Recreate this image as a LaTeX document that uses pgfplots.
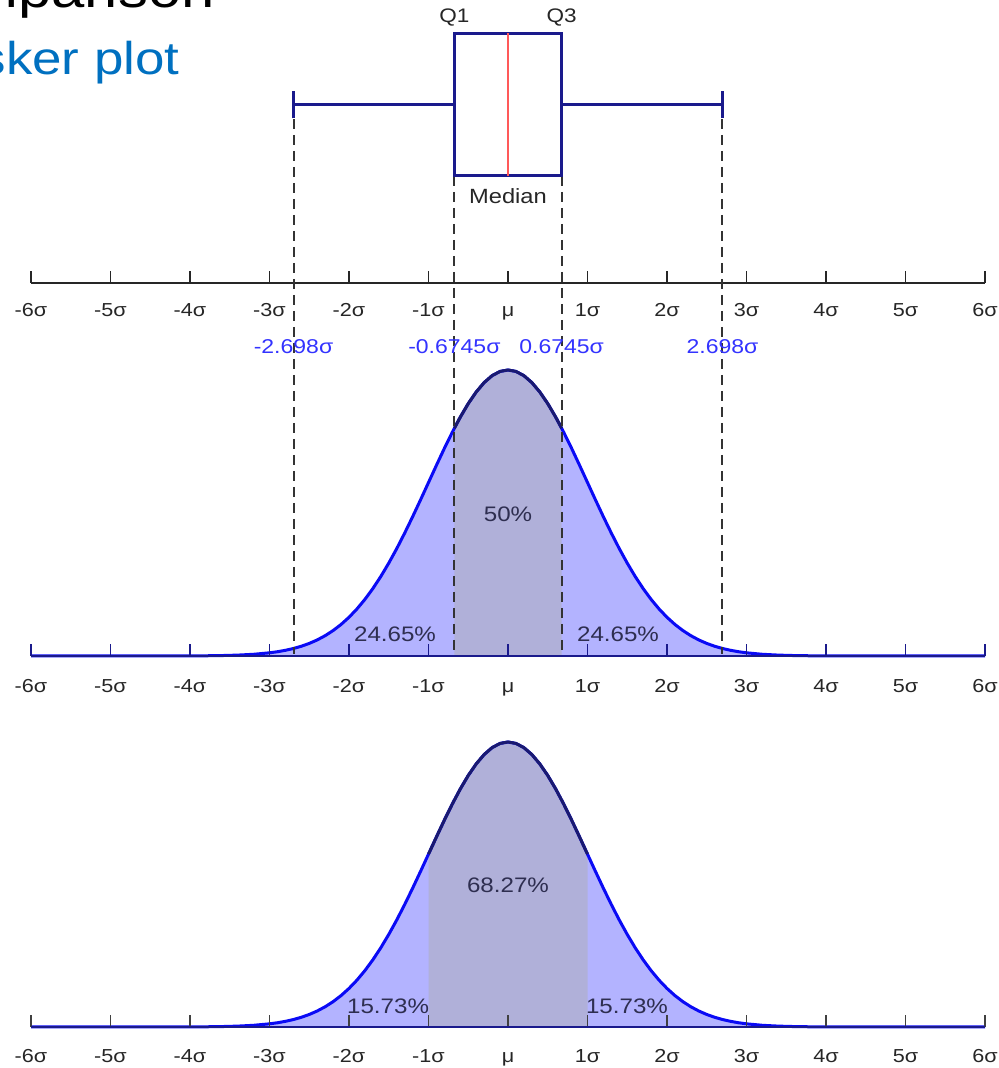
\documentclass[border=0pt]{standalone}
\usepackage{fontspec}
\setmainfont{Liberation Sans}
\usepackage{graphicx}
\usepackage{pgfplots}
\usepackage{pgfplotstable}
\pgfplotsset{compat=1.18}
\usepgfplotslibrary{statistics}

\definecolor{navyline}{HTML}{1A1A8C}
\definecolor{curveblue}{HTML}{0A0AF5}
\definecolor{fillblue}{HTML}{B3B3FF}
\definecolor{centerfill}{HTML}{B0B0D9}
\definecolor{darkcurve}{HTML}{1A1A70}
\definecolor{dashgrey}{HTML}{333333}
\definecolor{bluetext}{HTML}{3333FF}
\definecolor{titleblue}{HTML}{0070C0}
\definecolor{pcttext}{HTML}{2E2E50}

\newcommand{\sx}[1]{\scalebox{1.15}[1]{#1}}

% standard normal density, tabulated
\pgfplotstableread{
x y
-6 0
-5 0.0000015
-4.5 0.000016
-4 0.000134
-3.8 0.000292
-3.6 0.000612
-3.4 0.001232
-3.2 0.002384
-3.0 0.004432
-2.9 0.005953
-2.8 0.007915
-2.7 0.010421
-2.6 0.013583
-2.5 0.017528
-2.4 0.022395
-2.3 0.028327
-2.2 0.035475
-2.1 0.043984
-2.0 0.053991
-1.9 0.065616
-1.8 0.078950
-1.7 0.094049
-1.6 0.110921
-1.5 0.129518
-1.4 0.149727
-1.3 0.171369
-1.2 0.194186
-1.1 0.217852
-1.0 0.241971
-0.9 0.266085
-0.8 0.289692
-0.7 0.312254
-0.6 0.333225
-0.5 0.352065
-0.4 0.368270
-0.3 0.381388
-0.2 0.391043
-0.1 0.396953
0 0.398942
0.1 0.396953
0.2 0.391043
0.3 0.381388
0.4 0.368270
0.5 0.352065
0.6 0.333225
0.7 0.312254
0.8 0.289692
0.9 0.266085
1.0 0.241971
1.1 0.217852
1.2 0.194186
1.3 0.171369
1.4 0.149727
1.5 0.129518
1.6 0.110921
1.7 0.094049
1.8 0.078950
1.9 0.065616
2.0 0.053991
2.1 0.043984
2.2 0.035475
2.3 0.028327
2.4 0.022395
2.5 0.017528
2.6 0.013583
2.7 0.010421
2.8 0.007915
2.9 0.005953
3.0 0.004432
3.2 0.002384
3.4 0.001232
3.6 0.000612
3.8 0.000292
4 0.000134
4.5 0.000016
5 0.0000015
6 0
}\fullcurve

% interquartile part
\pgfplotstableread{
x y
-0.6745 0.317775
-0.6 0.333225
-0.5 0.352065
-0.4 0.368270
-0.3 0.381388
-0.2 0.391043
-0.1 0.396953
0 0.398942
0.1 0.396953
0.2 0.391043
0.3 0.381388
0.4 0.368270
0.5 0.352065
0.6 0.333225
0.6745 0.317775
}\iqr

% one-sigma part
\pgfplotstableread{
x y
-1.0 0.241971
-0.9 0.266085
-0.8 0.289692
-0.7 0.312254
-0.6 0.333225
-0.5 0.352065
-0.4 0.368270
-0.3 0.381388
-0.2 0.391043
-0.1 0.396953
0 0.398942
0.1 0.396953
0.2 0.391043
0.3 0.381388
0.4 0.368270
0.5 0.352065
0.6 0.333225
0.7 0.312254
0.8 0.289692
0.9 0.266085
1.0 0.241971
}\onesig

\pgfplotsset{
  sigaxis/.style={
    scale only axis,
    width=477pt,
    xmin=-6, xmax=6, ymin=0,
    axis x line=bottom,
    axis y line=none,
    x axis line style={-},
    xtick={-6,-5,-4,-3,-2,-1,0,1,2,3,4,5,6},
    xticklabels={\sx{-6σ},\sx{-5σ},\sx{-4σ},\sx{-3σ},\sx{-2σ},\sx{-1σ},\sx{μ},\sx{1σ},\sx{2σ},\sx{3σ},\sx{4σ},\sx{5σ},\sx{6σ}},
    xtick align=inside,
    major tick length=6pt,
    x tick label style={font=\fontsize{9.4}{11}\selectfont, text=black!85, anchor=base},
    axis on top,
  }
}

\begin{document}
\begin{tikzpicture}
\useasboundingbox (0,0) rectangle (499pt,534pt);
\clip (0,0) rectangle (499pt,534pt);

% title fragments
\node[anchor=base east, inner sep=0pt, font=\fontsize{26}{30}\selectfont, text=black] at (107.5pt,530pt) {\sx{Comparison}};
\node[anchor=base east, inner sep=0pt, font=\fontsize{23}{28}\selectfont, text=titleblue] at (90pt,496.5pt) {\sx{Box and whisker plot}};

% ---------- middle: interquartile range ----------
\begin{axis}[sigaxis,
  at={(15.5pt,206pt)}, anchor=south west,
  height=143.38pt, ymax=0.4,
  x axis line style={navyline, line width=1.2pt},
  tick style={navyline, line width=0.7pt},
  x tick label style={yshift=-18.4pt},
  clip=false]
\addplot[fill=fillblue, draw=none] table[x=x,y=y] {\fullcurve} \closedcycle;
\addplot[fill=centerfill, draw=none] table[x=x,y=y] {\iqr} \closedcycle;
\addplot[curveblue, line width=1.5pt] table[x=x,y=y] {\fullcurve};
\addplot[darkcurve, line width=1.5pt] table[x=x,y=y] {\iqr};
\node[text=pcttext, font=\fontsize{10.5}{12}\selectfont] at (axis cs:0,0.1981) {\sx{50\%}};
\node[text=pcttext, font=\fontsize{10.5}{12}\selectfont] at (axis cs:-1.421,0.0307) {\sx{24.65\%}};
\node[text=pcttext, font=\fontsize{10.5}{12}\selectfont] at (axis cs:1.384,0.0307) {\sx{24.65\%}};
\end{axis}

% ---------- bottom: one sigma ----------
\begin{axis}[sigaxis,
  at={(15.5pt,20.5pt)}, anchor=south west,
  height=142.88pt, ymax=0.4,
  x axis line style={navyline, line width=1.2pt},
  tick style={black!75, line width=0.7pt},
  x tick label style={yshift=-17.6pt},
  clip=false]
\addplot[fill=fillblue, draw=none] table[x=x,y=y] {\fullcurve} \closedcycle;
\addplot[fill=centerfill, draw=none] table[x=x,y=y] {\onesig} \closedcycle;
\addplot[curveblue, line width=1.5pt] table[x=x,y=y] {\fullcurve};
\addplot[darkcurve, line width=1.5pt] table[x=x,y=y] {\onesig};
\node[text=pcttext, font=\fontsize{10.5}{12}\selectfont] at (axis cs:0,0.1988) {\sx{68.27\%}};
\node[text=pcttext, font=\fontsize{10.5}{12}\selectfont] at (axis cs:-1.509,0.0294) {\sx{15.73\%}};
\node[text=pcttext, font=\fontsize{10.5}{12}\selectfont] at (axis cs:1.497,0.0294) {\sx{15.73\%}};
\end{axis}

% ---------- top: box plot ----------
\begin{axis}[sigaxis,
  at={(15.5pt,392.5pt)}, anchor=south west,
  height=141.5pt, ymax=283,
  x axis line style={black!85, line width=1pt},
  tick style={black!85, line width=0.7pt},
  x tick label style={yshift=-16.6pt},
  axis on top=false,
  clip=false]
% dashed guide lines
\addplot[dashgrey, line width=1pt, dash pattern=on 5pt off 3pt] coordinates {(-2.698,161) (-2.698,-364)};
\addplot[dashgrey, line width=1pt, dash pattern=on 5pt off 3pt] coordinates {(2.698,161) (2.698,-364)};
\addplot[dashgrey, line width=1pt, dash pattern=on 5pt off 3pt] coordinates {(-0.6745,105) (-0.6745,-364)};
\addplot[dashgrey, line width=1pt, dash pattern=on 5pt off 3pt] coordinates {(0.6745,105) (0.6745,-364)};
% box plot
\addplot[draw=navyline, line width=1.5pt,
  boxplot prepared={
    draw direction=x,
    draw position=175,
    lower whisker=-2.698,
    lower quartile=-0.6745,
    median=0,
    upper quartile=0.6745,
    upper whisker=2.698,
    box extend=139.5,
    whisker extend=27,
    every median/.style={draw=red!65, line width=1pt},
  }] coordinates {};
\node[font=\fontsize{9.8}{11}\selectfont, text=black!85] at (axis cs:-0.6745,260) {\sx{Q1}};
\node[font=\fontsize{9.8}{11}\selectfont, text=black!85] at (axis cs:0.6745,260) {\sx{Q3}};
\node[font=\fontsize{10.3}{12}\selectfont, text=black!85] at (axis cs:0,85) {\sx{Median}};
\node[font=\fontsize{10}{12}\selectfont, text=bluetext] at (axis cs:-2.698,-62) {\sx{-2.698σ}};
\node[font=\fontsize{10}{12}\selectfont, text=bluetext] at (axis cs:-0.6745,-62) {\sx{-0.6745σ}};
\node[font=\fontsize{10}{12}\selectfont, text=bluetext] at (axis cs:0.6745,-62) {\sx{0.6745σ}};
\node[font=\fontsize{10}{12}\selectfont, text=bluetext] at (axis cs:2.698,-62) {\sx{2.698σ}};
\end{axis}
\end{tikzpicture}
\end{document}
